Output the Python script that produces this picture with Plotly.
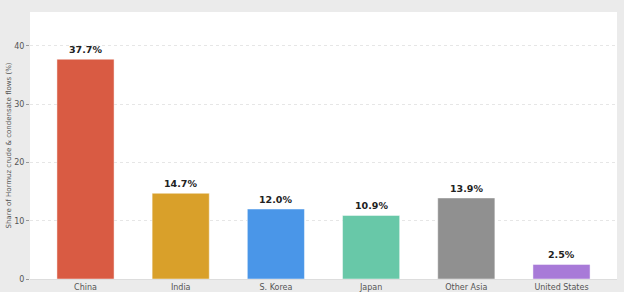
import plotly.graph_objects as go

categories = ["China", "India", "S. Korea", "Japan", "Other Asia", "United States"]
shares = [37.7, 14.7, 12.0, 10.9, 13.9, 2.5]
colors = ["#d95b43", "#d9a02a", "#4a96e8", "#68c8a8", "#909090", "#a87ad8"]
y_ticks = [0, 10, 20, 30, 40]

fig = go.Figure()
fig.add_trace(go.Bar(
    x=categories, y=shares, width=0.6,
    marker=dict(color=colors, line=dict(color="rgba(255,255,255,0.45)", width=1)),
))
for c, v in zip(categories, shares):
    fig.add_annotation(
        x=c, y=v, text=f"{v:.1f}%", showarrow=False, yanchor="bottom", yshift=2,
        font=dict(family="DejaVu Sans", size=9.5, color="#222222", weight="bold"),
    )
fig.update_layout(
    width=624, height=292,
    margin=dict(l=30, r=7, t=12, b=13),
    paper_bgcolor="#ebebeb", plot_bgcolor="#ffffff",
    showlegend=False, bargap=0.4,
    font=dict(family="DejaVu Sans", color="#555555"),
)
fig.update_xaxes(
    range=[-0.583, 5.583], showgrid=False, tickfont=dict(size=8, color="#555555"),
    showline=True, linecolor="#dddddd", linewidth=1, ticks="", ticklen=0,
    automargin=False,
)
fig.update_yaxes(
    range=[0, 45.8], tickvals=y_ticks, tickfont=dict(size=8, color="#555555"),
    showgrid=True, gridcolor="#e6e6e6", griddash="dot", gridwidth=1,
    ticks="outside", ticklen=3, tickcolor="#999999", zeroline=False,
    automargin=False,
    title=dict(text="Share of Hormuz crude & condensate flows (%)", font=dict(size=7, color="#555555"), standoff=1),
)
fig.write_html("out.html")
